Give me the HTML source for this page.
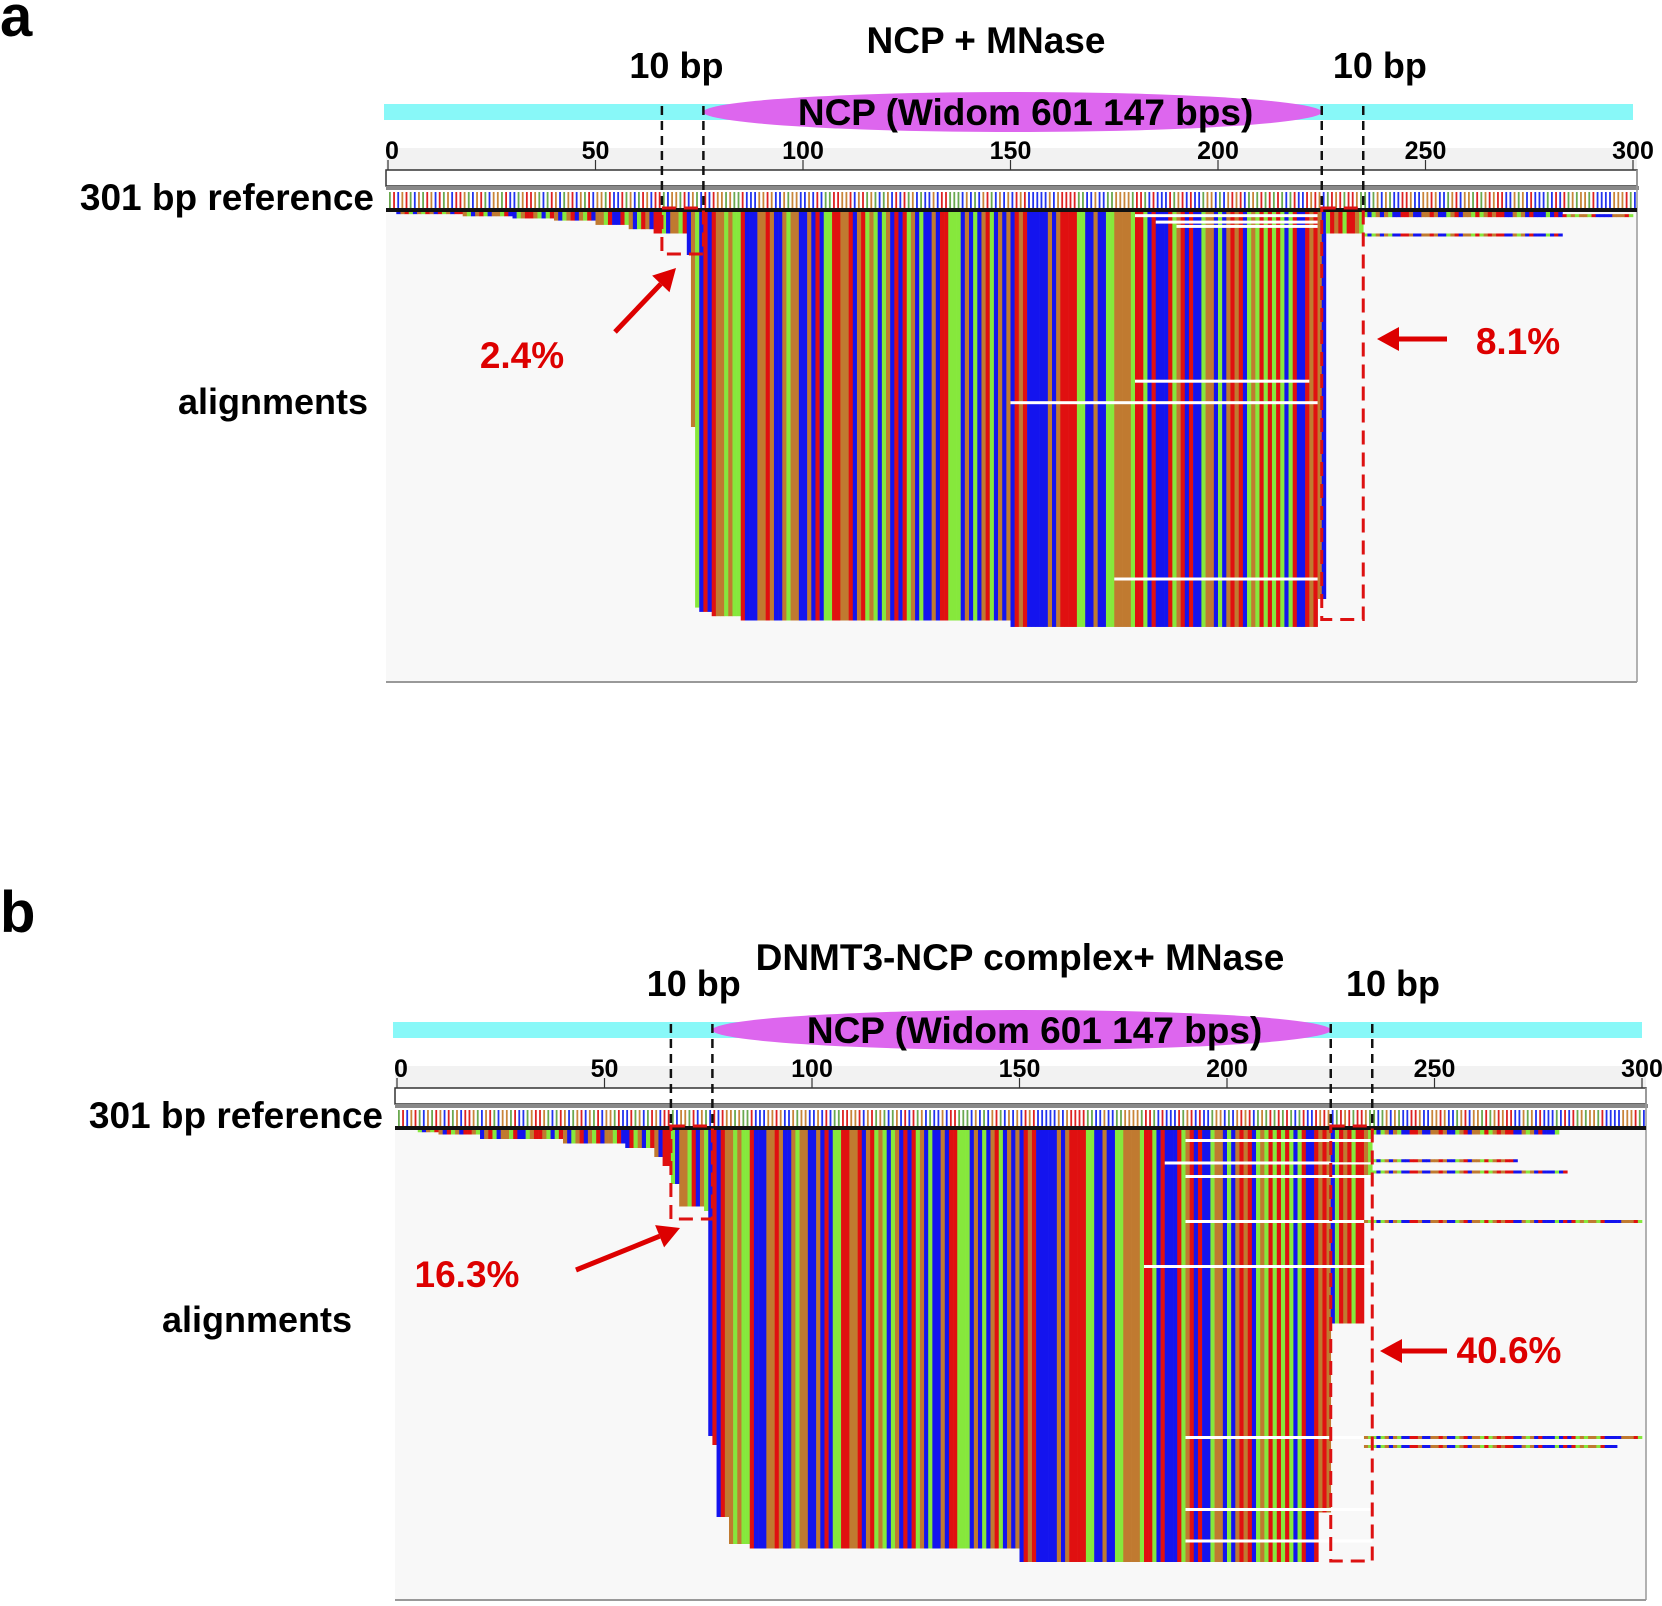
<!DOCTYPE html>
<html><head><meta charset="utf-8">
<style>
html,body{margin:0;padding:0;background:#fff;}
svg{display:block;font-family:"Liberation Sans",sans-serif;}
</style></head>
<body>
<svg id="fig" width="1662" height="1606" viewBox="0 0 1662 1606" xmlns="http://www.w3.org/2000/svg">
</svg>
<script>
// ---- data ----
const seqL = "ATCGTACGATGCTAGCTTGACGTACGGATCCAGTTGACATGCAGTCGATCGGATCCTAGCATGCTTACGGATCGACT";
const seqCore = "CTGGAGAATCCCGGTGCCGAGGCCGCTCAATTGGTCGTAGACAGCTCTAGCACCGCTTAAACGCACGTACGCGCTGTCCCCCGCGTTTTAACCGCCAAGGGGATTACTCCCTAGTCTCCAGGCACGTGTCAGATATATACATCCTGT";
const seqR = "GCATGTATTGAACAGCGACCTTGCCGGTGCCAGTCGGATAGTGTTCCGAGCTCCCACTCTAGAGGATCCCCGGGTACCGAG";
const tickLabels = ["0","50","100","150","200","250","300"];
const tickValues = [0,50,100,150,200,250,300];
const aStarts = [2,18,30,40,50,58,64,72,73,74,75,78,85,150,224,226,235];
const aDepths = [0.005,0.01,0.015,0.02,0.03,0.04,0.05,0.1,0.5,0.92,0.93,0.94,0.95,0.965,0.9,0.05,0.01];
const aEnd = 283;
const bStarts = [5,10,20,40,55,62,64,66,68,74,75,76,77,80,85,150,222,225,233,235];
const bDepths = [0.005,0.01,0.02,0.03,0.04,0.06,0.08,0.12,0.17,0.18,0.68,0.7,0.86,0.92,0.93,0.96,0.85,0.43,0.1,0.01];
const bEnd = 280;
const aGaps = [[180,224,0.005],[185,224,0.02],[190,224,0.03],[180,222,0.39],[150,224,0.44],[175,224,0.85]];
const bGaps = [[190,235,0.02],[185,235,0.07],[190,235,0.1],[190,235,0.2],[180,235,0.3],[190,235,0.68],[190,235,0.84],[190,235,0.91]];
const aLong = [[224,300,0.005],[235,283,0.05]];
const bLong = [[225,270,0.065],[225,282,0.09],[233,300,0.2],[233,300,0.68],[233,294,0.7]];

const colorOf = {A:"#86e83c",C:"#1414ee",G:"#c07a30",T:"#e01010"};
const refColor = {A:"#6aa84f",C:"#2233ee",G:"#c8853a",T:"#dd2222"};
const NS = "http://www.w3.org/2000/svg";
const svg = document.getElementById("fig");
function base(i){const s=seqL+seqCore+seqR;return s[i % s.length];}
function mk(tag, attrs, parent){const e=document.createElementNS(NS,tag);for(const k in attrs)e.setAttribute(k,attrs[k]);(parent||svg).appendChild(e);return e;}
function depthAt(starts,depths,end,bp){if(bp<starts[0]||bp>=end)return 0;let d=0;for(let i=0;i<starts.length;i++){if(bp>=starts[i])d=depths[i];}return d;}

function panel(P){
  const g=mk("g",{});
  
  
  const x=bp=>P.x0+bp*P.px;
  const W=300*P.px;
  let t=mk("text",{x:0,y:P.letterY,"font-size":58,"font-weight":"bold"},g);t.textContent=P.letter;
  
  
  t=mk("text",{x:P.titleX,y:P.titleY,"font-size":37,"font-weight":"bold","text-anchor":"middle"},g);t.textContent=P.title;
  
  
  let r=mk("rect",{x:P.x0-4,y:P.cyanY,width:W+4,height:16,fill:"#88f8f8"},g);
  
  
  const ex0=x(P.ncpFrom), ex1=x(P.ncpTo);
  r=mk("ellipse",{cx:(ex0+ex1)/2,cy:P.cyanY+8,rx:(ex1-ex0)/2,ry:20,fill:"#dd66ee"},g);
  
  
  t=mk("text",{x:(ex0+ex1)/2+13,y:P.cyanY+21,"font-size":37,"font-weight":"bold","text-anchor":"middle"},g);t.textContent="NCP (Widom 601 147 bps)";
  
  
  P.tenBp.forEach(v=>{
    const l=mk("text",{x:x(v),y:P.cyanY-26,"font-size":36,"font-weight":"bold","text-anchor":"middle"},g);l.textContent="10 bp";
    
    
  });
  const rt=P.rulerTop;
  mk("rect",{x:P.x0-2,y:rt-22,width:W+6,height:22,fill:"#f2f2f2"},g);
  tickValues.forEach((v,i)=>{
    const tx=mk("text",{x:x(v)+(i==0?4:0),y:rt-11,"font-size":25,"font-weight":"bold","text-anchor":"middle"},g);tx.textContent=tickLabels[i];
    
    
    mk("line",{x1:x(v),x2:x(v),y1:rt-10,y2:rt,stroke:"#333","stroke-width":1.2},g);
  });
  mk("rect",{x:P.x0-2,y:rt,width:W+6,height:16,fill:"#fff",stroke:"#333","stroke-width":1.5},g);
  mk("rect",{x:P.x0-2,y:rt+16,width:W+8,height:4,fill:"#888"},g);
  t=mk("text",{x:P.x0-14,y:rt+40,"font-size":37,"font-weight":"bold","text-anchor":"end"},g);t.textContent="301 bp reference";
  
  
  const refG=mk("g",{},g);
  
  
  for(let i=0;i<301;i++){
    mk("rect",{x:x(i)+1,y:rt+22,width:1.8,height:16,fill:refColor[base(i)]},refG);
  }
  const at=rt+41;
  mk("rect",{x:P.x0-2,y:at,width:W+6,height:P.areaH,fill:"#f8f8f8"},g);
  mk("line",{x1:P.x0-2,x2:P.x0+W+4,y1:at+P.areaH,y2:at+P.areaH,stroke:"#999","stroke-width":2},g);
  mk("line",{x1:P.x0+W+4,x2:P.x0+W+4,y1:rt,y2:at+P.areaH,stroke:"#999","stroke-width":1.5},g);
  mk("rect",{x:P.x0-2,y:at-3,width:W+6,height:4,fill:"#111"},g);
  t=mk("text",{x:P.alX,y:P.alY,"font-size":36,"font-weight":"bold","text-anchor":"end"},g);t.textContent="alignments";
  
  
  const H=P.cov;
  const cg=mk("g",{},g);
  
  
  for(let i=0;i<301;i++){
    const d=depthAt(P.starts,P.depths,P.end,i);
    if(d<=0)continue;
    const c=mk("rect",{x:x(i),y:at+1,width:P.px+0.3,height:Math.max(1.5,d*H),fill:colorOf[base(i)]},cg);
    
    
  }
  P.gaps.forEach(q=>{const e=mk("rect",{x:x(q[0]),y:at+1+q[2]*H,width:(q[1]-q[0])*P.px,height:3,fill:"#fff"},cg);
    
    });
  P.long.forEach(q=>{for(let i=q[0];i<q[1];i++){const e=mk("rect",{x:x(i),y:at+1+q[2]*H,width:P.px+0.3,height:3,fill:colorOf[base(i)]},cg);
    
    }});
  [P.ncpFrom-10,P.ncpFrom,P.ncpTo,P.ncpTo+10].forEach(v=>{
    const l=mk("line",{x1:x(v),x2:x(v),y1:P.cyanY+2,y2:at,stroke:"#111","stroke-width":2.5,"stroke-dasharray":"9,6"},g);
    
    
  });
  P.boxes.forEach(b=>{
    const e=mk("rect",{x:x(b[0]),y:at-3,width:(b[1]-b[0])*P.px,height:b[2]*H+3,fill:"none",stroke:"#dd1111","stroke-width":3,"stroke-dasharray":"14,8"},g);
    
    
  });
  P.arrows.forEach(a=>{
    const [x1,y1,x2,y2]=a; const ang=Math.atan2(y2-y1,x2-x1);
    const hx=x2-22*Math.cos(ang), hy=y2-22*Math.sin(ang);
    const ag=mk("g",{},g);
    
    
    mk("line",{x1:x1,y1:y1,x2:hx,y2:hy,stroke:"#dd0000","stroke-width":5},ag);
    const px=-Math.sin(ang),py=Math.cos(ang);
    mk("polygon",{points:`${x2},${y2} ${hx+px*12},${hy+py*12} ${hx-px*12},${hy-py*12}`,fill:"#dd0000"},ag);
  });
  P.pcts.forEach(p=>{
    const e=mk("text",{x:p[0],y:p[1],"font-size":37,"font-weight":"bold",fill:"#dd0000","text-anchor":"middle"},g);e.textContent=p[2];
    
    
  });
}

panel({name:"panel-a",letter:"a",letterY:36,title:"NCP + MNase",titleX:986,titleY:53,x0:388,px:4.15,
  cyanY:104,ncpFrom:76,ncpTo:225,tenBp:[69.5,239],rulerTop:170,areaH:471,cov:430,alX:368,alY:414,
  starts:aStarts,depths:aDepths,end:aEnd,gaps:aGaps,long:aLong,
  boxes:[[66,76,0.1],[225,235,0.95]],
  arrows:[[615,332,676,268],[1447,339,1377,339]],
  pcts:[[522,368,"2.4%"],[1518,354,"8.1%"]]});

panel({name:"panel-b",letter:"b",letterY:932,title:"DNMT3-NCP complex+ MNase",titleX:1020,titleY:970,x0:397,px:4.15,
  cyanY:1022,ncpFrom:76,ncpTo:225,tenBp:[71.5,240],rulerTop:1088,areaH:471,cov:450,alX:352,alY:1332,
  starts:bStarts,depths:bDepths,end:bEnd,gaps:bGaps,long:bLong,
  boxes:[[66,76,0.2],[225,235,0.96]],
  arrows:[[576,1270,680,1228],[1447,1351,1380,1351]],
  pcts:[[467,1287,"16.3%"],[1509,1363,"40.6%"]]});
</script>
</body></html>
